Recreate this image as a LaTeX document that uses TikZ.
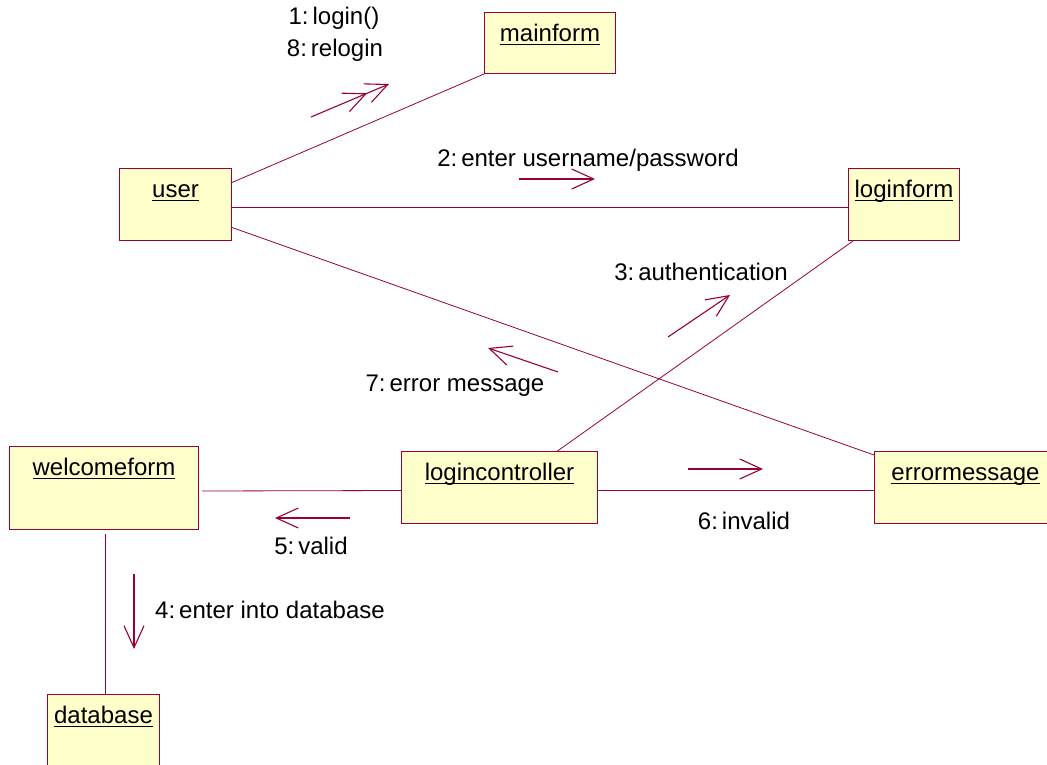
\documentclass[tikz,border=0pt]{standalone}
\usepackage{fontspec}
\setmainfont{Liberation Sans}
\usetikzlibrary{arrows.meta}
\definecolor{rosered}{RGB}{153,0,51}
\definecolor{rosefill}{RGB}{255,255,204}
\newcommand{\objname}[1]{{\setbox0\hbox{#1}\rlap{\rule[-3.5pt]{\wd0}{1.3pt}}\box0}}
\tikzset{
  obj/.style={draw=rosered, fill=rosefill, line width=1pt, anchor=north west,
    text height=23pt, inner ysep=6pt, inner xsep=2pt},
  link/.style={draw=rosered, line width=0.8pt},
  msg/.style={draw=rosered, line width=1.1pt,
    -{Straight Barb[length=22pt,width=20pt]}},
  msgtwo/.style={draw=rosered, line width=1.1pt,
    -{Straight Barb[length=22pt,width=20pt] Straight Barb[length=22pt,width=20pt]}},
  lbl/.style={inner sep=0pt}
}
\begin{document}
\begin{tikzpicture}[x=1pt,y=-1pt,font=\fontsize{24}{28}\selectfont]
\useasboundingbox (0,0) rectangle (1047,765);
% objects
\node[obj, minimum width=131pt, text depth=26pt] (mainform) at (484,12) {\objname{mainform}};
\node[obj, minimum width=112pt, text depth=37pt] (user) at (119,168) {\objname{user}};
\node[obj, minimum width=111pt, text depth=37pt] (loginform) at (848,168) {\objname{loginform}};
\node[obj, minimum width=196pt, text depth=37pt] (logincontroller) at (401,451) {\objname{logincontroller}};
\node[obj, minimum width=189pt, text depth=48pt] (welcomeform) at (9,446) {\objname{welcomeform}};
\node[obj, minimum width=182pt, text depth=37pt] (errormessage) at (874,451) {\objname{errormessage}};
\node[obj, minimum width=112pt, text depth=45pt] (database) at (47,694) {\objname{database}};
% links
\draw[link] ([yshift=22pt]user.east) -- (mainform.south west);
\draw[link] ([yshift=-3pt]user.east) -- ([yshift=-3pt]loginform.west);
\draw[link] ([yshift=-23pt]user.east) -- ([yshift=-4pt]errormessage.north west);
\draw[link] ([xshift=5pt]loginform.south west) -- ([xshift=58pt]logincontroller.north);
\draw[link] ([xshift=3pt,yshift=-3pt]welcomeform.east) -- ([yshift=-3pt]logincontroller.west);
\draw[link] ([yshift=-3pt]logincontroller.east) -- ([yshift=-3pt]errormessage.west);
\draw[link] ([xshift=1.5pt,yshift=-4pt]welcomeform.south) -- ([xshift=2pt]database.north);
% messages
\draw[msgtwo] (311,117) -- (389,84);
\foreach \from/\to in {{519,179}/{595,179}, {668,337}/{730,295}, {558,372}/{488,348},
    {688,469}/{763,469}, {350,518}/{275,518}, {134,574}/{134,649}}
  \draw[msg] (\from) -- (\to);
\node[lbl] (lbllogin) at (334,18) {1:\,login()};
\node[lbl] (lblrelogin) at (335,50) {8:\,relogin};
\node[lbl] (lblenter) at (588,160) {2:\,enter username/password};
\node[lbl] (lblauth) at (701,272) {3:\,authentication};
\node[lbl] (lblerror) at (455,386) {7:\,error message};
\node[lbl] (lblinvalid) at (744,521) {6:\,invalid};
\node[lbl] (lblvalid) at (311,546) {5:\,valid};
\node[lbl] (lbldb) at (270,610) {4:\,enter into database};
\end{tikzpicture}
\end{document}
